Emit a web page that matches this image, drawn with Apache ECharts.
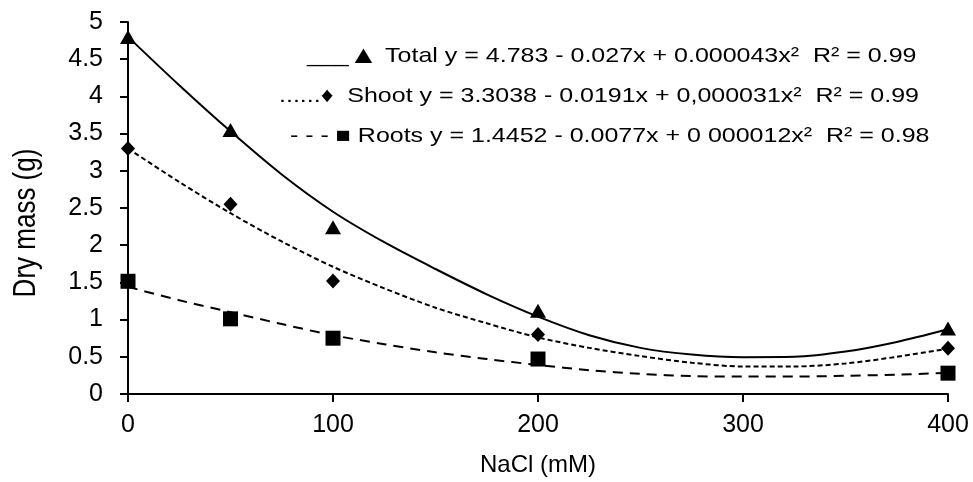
<!DOCTYPE html>
<html><head><meta charset="utf-8">
<script src="https://cdn.jsdelivr.net/npm/echarts@6/dist/echarts.min.js"></script>
<style>html,body{margin:0;padding:0;background:#fff}#c{width:973px;height:482px}</style>
</head><body><div id="c"></div>
<script>
// Observed points (NaCl mM -> dry mass g)
const nacl = [0, 50, 100, 200, 400];
const totalObs = [4.80, 3.55, 2.24, 1.12, 0.88];
const shootObs = [3.30, 2.55, 1.52, 0.80, 0.615];
const rootsObs = [1.515, 1.01, 0.75, 0.47, 0.28];

// Trend curves
const curveX   = [0, 25, 50, 75, 100, 125, 150, 175, 200, 225, 250, 275, 300, 325, 350, 375, 400];
const totalFit = [4.80, 4.15, 3.53, 2.95, 2.45, 2.04, 1.68, 1.34, 1.04, 0.79, 0.62, 0.53, 0.495, 0.50, 0.57, 0.70, 0.87];
const shootFit = [3.30, 2.85, 2.43, 2.05, 1.71, 1.42, 1.16, 0.95, 0.76, 0.62, 0.51, 0.42, 0.37, 0.37, 0.41, 0.50, 0.61];
const rootsFit = [1.44, 1.26, 1.10, 0.94, 0.79, 0.67, 0.56, 0.47, 0.39, 0.32, 0.27, 0.24, 0.235, 0.235, 0.245, 0.26, 0.285];

const legendKeys = ['___', '......', '- - - '];
const legendMarks = ['▲', '♦', '■'];
const legendTexts = [
  ' Total y = 4.783 - 0.027x + 0.000043x²  R² = 0.99',
  '  Shoot y = 3.3038 - 0.0191x + 0,000031x²  R² = 0.99',
  ' Roots y = 1.4452 - 0.0077x + 0 000012x²  R² = 0.98'
];
const xTitle = 'NaCl (mM)';
const yTitle = 'Dry mass (g)';

const FONT = '"Liberation Sans", Arial, sans-serif';
const pair = (xs, ys) => xs.map((x, i) => [x, ys[i]]);

const chart = echarts.init(document.getElementById('c'));
const legendPos = [[307, 56], [279, 96], [290, 136]];
const markSize = [25, 21, 21];

chart.setOption({
  animation: false,
  backgroundColor: '#fff',
  grid: { left: 128, right: 25, top: 22, bottom: 86 },
  xAxis: {
    type: 'value', min: 0, max: 400, interval: 100,
    name: xTitle, nameLocation: 'middle', nameGap: 59,
    nameTextStyle: { color: '#000', fontSize: 24, fontFamily: FONT },
    axisLine: { lineStyle: { color: '#000', width: 2 } },
    axisTick: { show: true, inside: false, length: 8, lineStyle: { color: '#000', width: 2 } },
    axisLabel: { color: '#000', fontSize: 25, fontFamily: FONT, margin: 19 },
    splitLine: { show: false }
  },
  yAxis: {
    type: 'value', min: 0, max: 5, interval: 0.5,
    axisLine: { show: true, lineStyle: { color: '#000', width: 2 } },
    axisTick: { show: true, inside: false, length: 8, lineStyle: { color: '#000', width: 2 } },
    axisLabel: { color: '#000', fontSize: 25, fontFamily: FONT, margin: 25 },
    splitLine: { show: false }
  },
  graphic: [
    {
      type: 'text', x: 27, y: 223, rotation: Math.PI / 2, scaleY: 1.18,
      style: { text: yTitle, fill: '#000', fontSize: 26, fontFamily: FONT, align: 'center', verticalAlign: 'middle' }
    }
  ].concat(legendTexts.map((t, i) => ({
    type: 'text', x: legendPos[i][0], y: legendPos[i][1], scaleX: 1.19,
    style: {
      text: '{k|' + legendKeys[i] + '}{m|' + legendMarks[i] + '}{t|' + t + '}',
      fill: '#000', fontSize: 21, fontFamily: FONT, align: 'left', verticalAlign: 'middle',
      rich: {
        k: { fontSize: 21, fontFamily: FONT, fill: '#000' },
        m: { fontSize: markSize[i], fontFamily: FONT, fill: '#000' },
        t: { fontSize: 21, fontFamily: FONT, fill: '#000' }
      }
    }
  }))),
  series: [
    { type: 'line', data: pair(curveX, totalFit), smooth: 0.3, showSymbol: false, symbol: 'none',
      lineStyle: { color: '#000', width: 2, type: 'solid' }, z: 2 },
    { type: 'line', data: pair(curveX, shootFit), smooth: 0.3, showSymbol: false, symbol: 'none',
      lineStyle: { color: '#000', width: 2, type: [5, 3] }, z: 2 },
    { type: 'line', data: pair(curveX, rootsFit), smooth: 0.3, showSymbol: false, symbol: 'none',
      lineStyle: { color: '#000', width: 2, type: [10, 7] }, z: 2 },
    { type: 'scatter', data: pair(nacl, totalObs), symbol: 'triangle', symbolSize: [16, 14],
      itemStyle: { color: '#000', opacity: 1 }, z: 3 },
    { type: 'scatter', data: pair(nacl, shootObs), symbol: 'diamond', symbolSize: [14, 15],
      itemStyle: { color: '#000', opacity: 1 }, z: 3 },
    { type: 'scatter', data: pair(nacl, rootsObs), symbol: 'rect', symbolSize: [15, 15],
      itemStyle: { color: '#000', opacity: 1 }, z: 3 }
  ]
});
</script>
</body></html>
